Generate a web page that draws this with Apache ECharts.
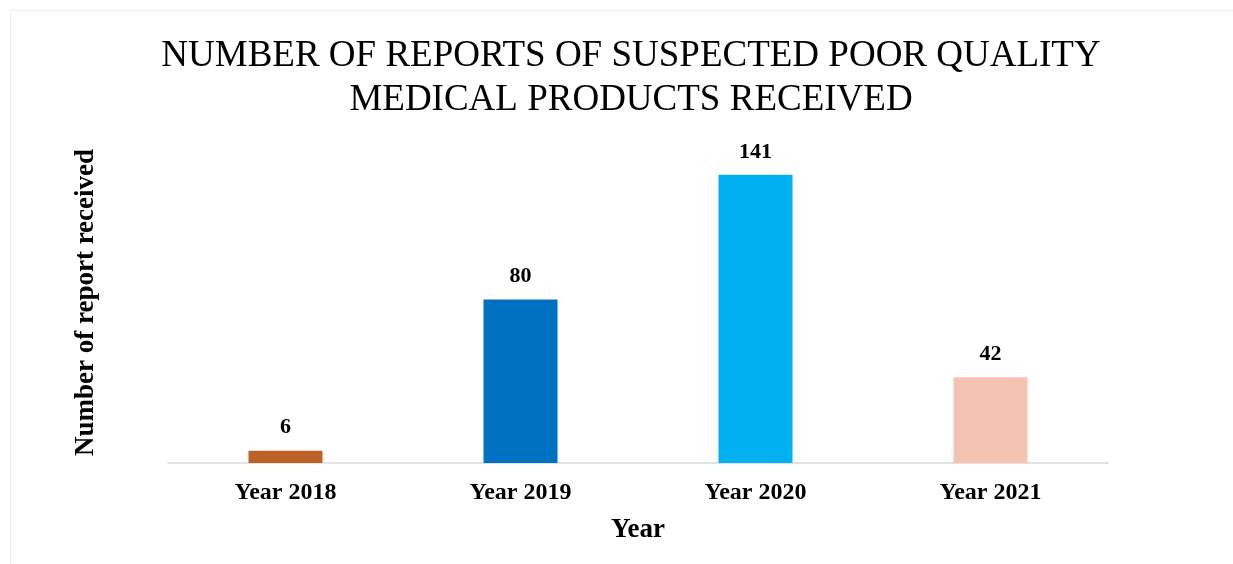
<!DOCTYPE html>
<html>
<head>
<meta charset="utf-8">
<title>Reports of suspected poor quality medical products</title>
<script src="https://cdn.jsdelivr.net/npm/echarts@6/dist/echarts.min.js"></script>
<style>
  html, body { margin: 0; padding: 0; background: #ffffff; }
  #chart { width: 1233px; height: 564px; }
</style>
</head>
<body>
<div id="chart"></div>
<script>
// Reports received per year
const categories = ['Year 2018', 'Year 2019', 'Year 2020', 'Year 2021'];
const reportCounts = [6, 80, 141, 42];
const barColors = ['#BD6226', '#0070C0', '#00B0F0', '#F5C3B2'];

const serif = '"Liberation Serif", "Times New Roman", serif';

const chart = echarts.init(document.getElementById('chart'), null, { renderer: 'canvas' });

chart.setOption({
  backgroundColor: '#ffffff',
  animation: false,
  title: {
    text: 'NUMBER OF REPORTS OF SUSPECTED POOR QUALITY\nMEDICAL PRODUCTS RECEIVED',
    left: 626,
    top: 29,
    textAlign: 'center',
    textStyle: {
      fontFamily: serif,
      fontWeight: 'normal',
      fontSize: 37,
      lineHeight: 44,
      color: '#000000'
    }
  },
  graphic: [{
    type: 'rect',
    silent: true,
    shape: { x: 10.5, y: 10.5, width: 1400, height: 700 },
    style: { fill: 'none', stroke: '#EEEEEE', lineWidth: 1 }
  }],
  grid: { left: 168, right: 125, top: 136, bottom: 101 },
  xAxis: {
    type: 'category',
    data: categories,
    name: 'Year',
    nameLocation: 'middle',
    nameGap: 54,
    nameTextStyle: { fontFamily: serif, fontWeight: 'bold', fontSize: 27, color: '#000000' },
    axisLine: { show: true, lineStyle: { color: '#D9D9D9', width: 1.5 } },
    axisTick: { show: false },
    axisLabel: { fontFamily: serif, fontWeight: 'bold', fontSize: 24, color: '#000000', margin: 18 }
  },
  yAxis: {
    type: 'value',
    min: 0,
    max: 160,
    interval: 20,
    name: 'Number of report received',
    nameLocation: 'middle',
    nameGap: 68,
    nameTextStyle: { fontFamily: serif, fontWeight: 'bold', fontSize: 27, color: '#000000', padding: [0, 6, 0, 0] },
    axisLine: { show: false },
    axisTick: { show: false },
    axisLabel: { show: false },
    splitLine: { show: false }
  },
  series: [{
    type: 'bar',
    barWidth: 74,
    data: reportCounts.map((v, i) => ({ value: v, itemStyle: { color: barColors[i] } })),
    label: {
      show: true,
      position: 'top',
      distance: 12,
      fontFamily: serif,
      fontWeight: 'bold',
      fontSize: 22,
      color: '#000000'
    }
  }]
});
</script>
</body>
</html>
